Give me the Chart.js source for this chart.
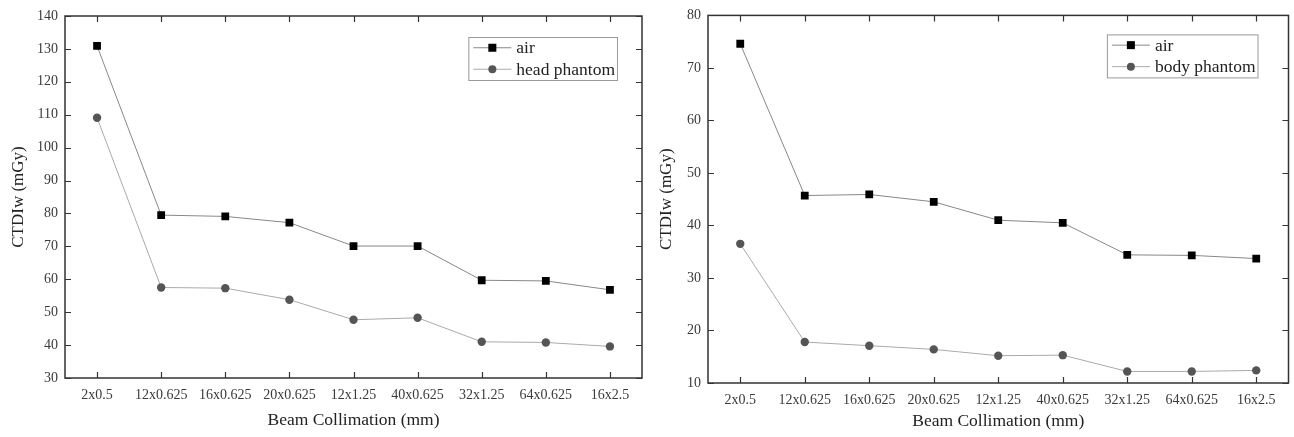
<!DOCTYPE html>
<html>
<head>
<meta charset="utf-8">
<script src="https://cdn.jsdelivr.net/npm/chart.js@4"></script>
<style>
  body { margin: 0; background: #fff; }
  #wrap { position: relative; width: 1294px; height: 437px; }
  canvas { position: absolute; top: 0; }
</style>
</head>
<body>
<div id="wrap">
  <canvas id="headChart" width="648" height="437" style="left:0"></canvas>
  <canvas id="bodyChart" width="646" height="437" style="left:648px"></canvas>
</div>
<script>
// categories on the x axis
const collimation = ["2x0.5", "12x0.625", "16x0.625", "20x0.625", "12x1.25", "40x0.625", "32x1.25", "64x0.625", "16x2.5"];

// left chart (head)
const headAir = [130.9, 79.5, 79.1, 77.2, 70.1, 70.1, 59.7, 59.5, 56.8];
const headPhantom = [109.1, 57.5, 57.3, 53.8, 47.7, 48.3, 41.0, 40.8, 39.6];

// right chart (body)
const bodyAir = [74.6, 45.7, 45.9, 44.5, 41.0, 40.5, 34.4, 34.3, 33.7];
const bodyPhantom = [36.5, 17.8, 17.1, 16.4, 15.2, 15.3, 12.2, 12.2, 12.4];

const serif = "'Liberation Serif', 'Times New Roman', serif";
const textColor = "#3a3a3a";

// frame round the plot with inward ticks on all four sides
const framePlugin = {
  id: "frame",
  afterDraw(chart) {
    const { ctx, chartArea, scales } = chart;
    const { left, right, top, bottom } = chartArea;
    const len = 6;
    ctx.save();
    ctx.strokeStyle = "#333";
    ctx.lineWidth = 1.5;
    ctx.strokeRect(left, top, right - left, bottom - top);
    ctx.lineWidth = 1.2;
    ctx.beginPath();
    scales.x.ticks.forEach((t, i) => {
      const px = Math.round(scales.x.getPixelForTick(i)) + 0.5;
      ctx.moveTo(px, bottom); ctx.lineTo(px, bottom - len);
      ctx.moveTo(px, top); ctx.lineTo(px, top + len);
    });
    scales.y.ticks.forEach((t, i) => {
      const py = Math.round(scales.y.getPixelForTick(i)) + 0.5;
      ctx.moveTo(left, py); ctx.lineTo(left + len, py);
      ctx.moveTo(right, py); ctx.lineTo(right - len, py);
    });
    ctx.stroke();
    ctx.restore();
  }
};

// boxed legend inside the plot, top right
const boxLegendPlugin = {
  id: "boxLegend",
  afterDraw(chart, args, opts) {
    const { ctx, chartArea } = chart;
    const sets = chart.data.datasets;
    ctx.save();
    ctx.font = "17.5px " + serif;
    const textW = Math.max(...sets.map((d) => ctx.measureText(d.label).width));
    const lineLen = 38, gap = 5, padL = 5, padR = 2, rowH = 21.5;
    const w = padL + lineLen + gap + textW + padR;
    const h = rowH * sets.length;
    const x0 = chartArea.right - opts.insetRight - w;
    const y0 = chartArea.top + opts.insetTop;
    ctx.strokeStyle = "#999";
    ctx.lineWidth = 1;
    ctx.strokeRect(x0 + 0.5, y0 + 0.5, w, h);
    sets.forEach((d, i) => {
      const cy = y0 + rowH * i + rowH / 2;
      const lx = x0 + padL;
      ctx.strokeStyle = d.borderColor;
      ctx.lineWidth = 1;
      ctx.beginPath();
      ctx.moveTo(lx, cy); ctx.lineTo(lx + lineLen, cy);
      ctx.stroke();
      ctx.fillStyle = d.pointBackgroundColor;
      const mx = lx + lineLen / 2;
      if (d.pointStyle === "rect") {
        ctx.fillRect(mx - 4, cy - 4, 8, 8);
      } else {
        ctx.beginPath();
        ctx.arc(mx, cy, 4, 0, Math.PI * 2);
        ctx.fill();
      }
      ctx.fillStyle = "#222";
      ctx.textBaseline = "middle";
      ctx.fillText(d.label, lx + lineLen + gap, cy + 1);
    });
    ctx.restore();
  }
};

function makeChart(id, airData, phantomData, phantomLabel, yMin, yMax, layout) {
  const ctx = document.getElementById(id).getContext("2d");
  return new Chart(ctx, {
    type: "line",
    data: {
      labels: collimation,
      datasets: [
        {
          label: "air",
          data: airData,
          borderColor: "#888",
          borderWidth: 1,
          pointStyle: "rect",
          pointRadius: 5.5,
          pointBackgroundColor: "#000",
          pointBorderColor: "#000",
          pointBorderWidth: 0
        },
        {
          label: phantomLabel,
          data: phantomData,
          borderColor: "#aaa",
          borderWidth: 1,
          pointStyle: "circle",
          pointRadius: 4.2,
          pointBackgroundColor: "#555",
          pointBorderColor: "#555",
          pointBorderWidth: 0
        }
      ]
    },
    options: {
      responsive: false,
      animation: false,
      events: [],
      layout: { padding: { left: 0, right: layout.padRight, top: layout.padTop, bottom: 0 } },
      scales: {
        x: {
          type: "category",
          offset: true,
          grid: { display: false, drawTicks: false },
          border: { display: false },
          ticks: { color: textColor, font: { family: serif, size: 14 }, padding: 9, maxRotation: 0, autoSkip: false },
          title: { display: true, text: "Beam Collimation (mm)", color: "#222", font: { family: serif, size: 17.5 }, padding: { top: 4, bottom: layout.xTitlePad } },
          afterFit: (s) => { s.height = layout.xHeight; }
        },
        y: {
          min: yMin,
          max: yMax,
          grid: { display: false, drawTicks: false },
          border: { display: false },
          ticks: { stepSize: 10, color: textColor, font: { family: serif, size: 14 }, padding: 7 },
          title: { display: true, text: "CTDIw (mGy)", color: "#222", font: { family: serif, size: 17 }, padding: { top: 8, bottom: 4 } },
          afterFit: (s) => { s.width = layout.yWidth; }
        }
      },
      plugins: {
        legend: { display: false },
        tooltip: { enabled: false },
        boxLegend: { insetRight: layout.legRight, insetTop: layout.legTop }
      }
    },
    plugins: [framePlugin, boxLegendPlugin]
  });
}

makeChart("headChart", headAir, headPhantom, "head phantom", 30, 140,
  { padRight: 6, padTop: 16, xHeight: 59, yWidth: 65, xTitlePad: 6, legRight: 25, legTop: 21 });
makeChart("bodyChart", bodyAir, bodyPhantom, "body phantom", 10, 80,
  { padRight: 2, padTop: 12, xHeight: 54, yWidth: 60, xTitlePad: 5, legRight: 31, legTop: 19 });
</script>
</body>
</html>
